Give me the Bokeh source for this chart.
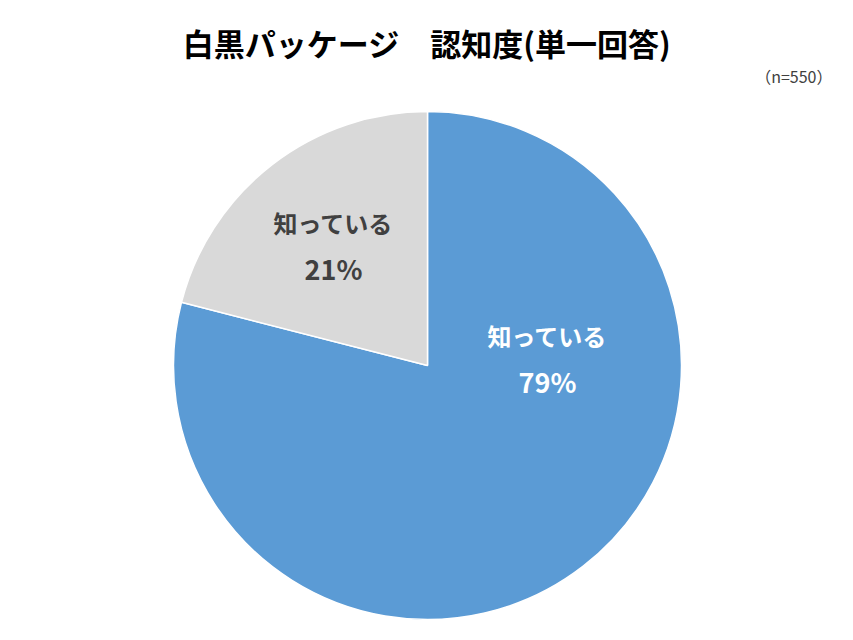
import math
from bokeh.plotting import figure
from bokeh.models import ColumnDataSource, Range1d
from bokeh.core.properties import value
from bokeh.embed import file_html
from bokeh.resources import INLINE

# Data
categories = ["知っている", "知っている"]
shares = [79, 21]
colors = ["#5B9BD5", "#D9D9D9"]
label_colors = ["#FFFFFF", "#404040"]
title_text = "白黒パッケージ　認知度(単一回答)"
note_text = "（n=550）"

W, H = 853, 640
cx, cy, r = 427, 640 - 365, 254

total = sum(shares)
starts, ends = [], []
acc = 0.0
# clockwise from 12 o'clock
for s in shares:
    a0 = math.pi / 2 - 2 * math.pi * (acc + s) / total
    a1 = math.pi / 2 - 2 * math.pi * acc / total
    starts.append(a0)
    ends.append(a1)
    acc += s

src = ColumnDataSource(dict(start=starts, end=ends, color=colors))

p = figure(width=W, height=H, output_backend="svg", toolbar_location=None,
           x_range=Range1d(0, W), y_range=Range1d(0, H),
           min_border=0, outline_line_color=None)
p.axis.visible = False
p.grid.visible = False
p.background_fill_color = "white"
p.border_fill_color = "white"

p.wedge(x=cx, y=cy, radius=r, start_angle="start", end_angle="end",
        fill_color="color", line_color="white", line_width=1.5, source=src)

# label positions (style offsets relative to centre)
label_offsets = [(120, 7), (-94, 120)]
lx, ly1, ly2, txt1, txt2 = [], [], [], [], []
for cat, s, (dx, dy) in zip(categories, shares, label_offsets):
    lx.append(cx + dx)
    ly1.append(cy + dy + 23)
    ly2.append(cy + dy - 23)
    txt1.append(cat)
    txt2.append(f"{s}%")

lsrc = ColumnDataSource(dict(x=lx, y1=ly1, y2=ly2, t1=txt1, t2=txt2, c=label_colors))
p.text(x="x", y="y1", text="t1", source=lsrc, text_color="c",
       text_font=value("Noto Sans CJK JP"), text_font_size="24px",
       text_font_style="bold", text_align="center", text_baseline="middle")
p.text(x="x", y="y2", text="t2", source=lsrc, text_color="c",
       text_font=value("Noto Sans CJK JP"), text_font_size="27px",
       text_font_style="bold", text_align="center", text_baseline="middle")

p.text(x=[W / 2], y=[H - 42], text=[title_text], text_color="#000000",
       text_font=value("Noto Sans CJK JP"), text_font_size="31px",
       text_font_style="bold", text_align="center", text_baseline="middle")
p.text(x=[832], y=[H - 75], text=[note_text], text_color="#404040",
       text_font=value("Noto Sans CJK JP"), text_font_size="16px",
       text_align="right", text_baseline="middle")

open("out.html", "w").write(file_html(p, INLINE))
